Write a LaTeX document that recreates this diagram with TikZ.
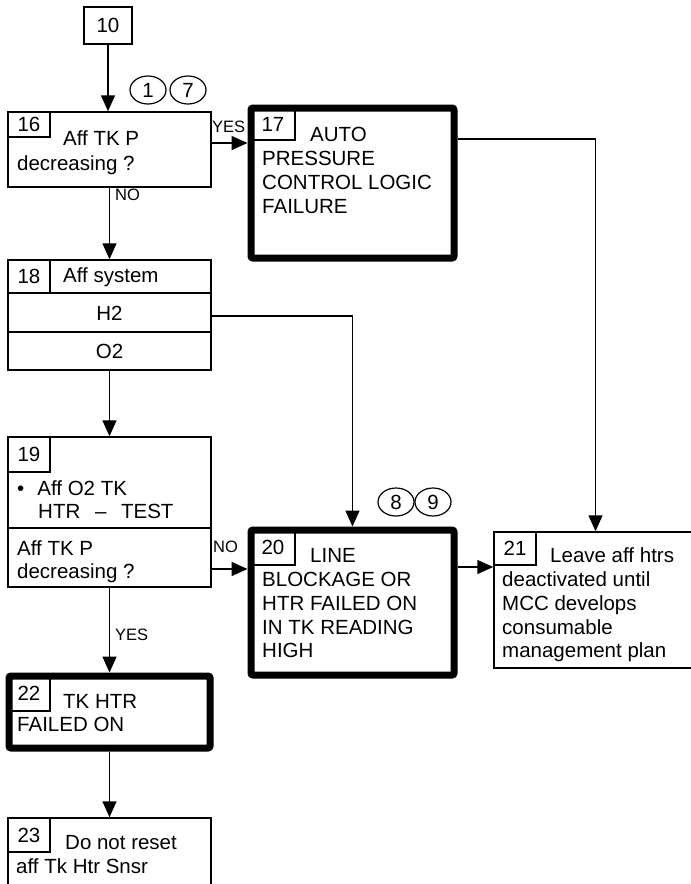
\documentclass[tikz,border=0pt]{standalone}
\usepackage{fontspec}
\setmainfont{Liberation Sans}
\usetikzlibrary{arrows.meta,shapes.geometric}
\begin{document}
\begin{tikzpicture}[x=1pt,y=-1pt,
  thinln/.style={line width=1.5pt},
  box/.style={draw, line width=1.5pt, inner sep=0pt, font=\fontsize{20.5}{24}\selectfont},
  heavybox/.style={draw, line width=7pt, rounded corners=2pt, inner sep=0pt},
  numbox/.style={draw, line width=1.5pt, inner sep=0pt, outer sep=0pt, font=\fontsize{20.5}{24}\selectfont},
  txt/.style={anchor=base west, inner sep=0pt, font=\fontsize{20.5}{24}\selectfont},
  ctxt/.style={inner sep=0pt, font=\fontsize{20.5}{24}\selectfont},
  lbl/.style={anchor=base west, inner sep=0pt, font=\fontsize{16.5}{20}\selectfont},
  tag/.style={draw, ellipse, line width=1.2pt, minimum width=36pt, minimum height=28pt, inner sep=0pt, font=\fontsize{20.5}{24}\selectfont},
  arr/.style={line width=1.5pt, -{Triangle[length=16pt,width=14pt]}},
]
\useasboundingbox (0,0) rectangle (691,884);
\clip (0,0) rectangle (691,884);
\fill[white] (0,0) rectangle (691,884);

% box 10
\node[box, minimum width=48pt, minimum height=37pt] (b10) at (108,25.5) {10};

% box 16
\node[box, minimum width=203pt, minimum height=75pt] (b16) at (109.5,149.5) {};
\node[numbox, minimum width=42pt, minimum height=25pt] (n16) at (29,124.5) {16};
\node[txt] (t16a) at (63,145) {Aff TK P};
\node[txt] (t16b) at (17,170) {decreasing ?};
\node[tag] (c1) at (148,90) {1};
\node[tag] (c7) at (188,90) {7};

% box 17
\node[heavybox, minimum width=203pt, minimum height=150pt] (b17) at (352.5,183) {};
\node[numbox, minimum width=44pt, minimum height=32pt] (n17) at (273,124) {17};
\node[txt] (t17a) at (310,141.5) {AUTO};
\node[txt] (t17b) at (262,165) {PRESSURE};
\node[txt] (t17c) at (262,189) {CONTROL LOGIC};
\node[txt] (t17d) at (262,213) {FAILURE};

% box 18
\node[box, minimum width=203pt, minimum height=110pt] (b18) at (109.5,315) {};
\draw[thinln] (b18.west |- 0,293) -- (b18.east |- 0,293);
\draw[thinln] (b18.west |- 0,332) -- (b18.east |- 0,332);
\node[numbox, minimum width=42pt, minimum height=33pt] (n18) at (29,276.5) {18};
\node[txt] (t18) at (63,282) {Aff system};
\node[ctxt] (h2) at (109.5,313) {H2};
\node[ctxt] (o2) at (109.5,351) {O2};

% box 19
\node[box, minimum width=203pt, minimum height=150pt] (b19) at (109.5,512) {};
\draw[thinln] (b19.west |- 0,528) -- (b19.east |- 0,528);
\node[numbox, minimum width=42pt, minimum height=35pt] (n19) at (29,454.5) {19};
\node[txt] (t19a) at (17,495) {\textbullet\hspace{13pt}Aff O2 TK};
\node[txt] (t19b) at (38,518) {HTR\hspace{9pt} –\hspace{9pt} TEST};
\node[txt] (t19c) at (17,555) {Aff TK P};
\node[txt] (t19d) at (17,578) {decreasing ?};

% box 20
\node[heavybox, minimum width=203pt, minimum height=145pt] (b20) at (352.5,602.5) {};
\node[numbox, minimum width=44pt, minimum height=35pt] (n20) at (273,547.5) {20};
\node[txt] (t20a) at (310,562) {LINE};
\node[txt] (t20b) at (262,586.5) {BLOCKAGE OR};
\node[txt] (t20c) at (262,610) {HTR FAILED ON};
\node[txt] (t20d) at (262,634) {IN TK READING};
\node[txt] (t20e) at (262,657.5) {HIGH};
\node[tag] (c8) at (396,502) {8};
\node[tag] (c9) at (433,502) {9};

% box 21
\node[box, minimum width=203pt, minimum height=136pt] (b21) at (595.5,600) {};
\node[numbox, minimum width=42pt, minimum height=33pt] (n21) at (515,548.5) {21};
\node[txt] (t21a) at (550,562.5) {Leave aff htrs};
\node[txt] (t21b) at (502,586.5) {deactivated until};
\node[txt] (t21c) at (502,610) {MCC develops};
\node[txt] (t21d) at (502,634) {consumable};
\node[txt] (t21e) at (502,657) {management plan};

% box 22
\node[heavybox, minimum width=201pt, minimum height=72pt] (b22) at (109.5,712) {};
\node[numbox, minimum width=42pt, minimum height=35pt] (n22) at (29,693.5) {22};
\node[txt] (t22a) at (63,708) {TK HTR};
\node[txt] (t22b) at (17,731.5) {FAILED ON};

% box 23
\node[box, minimum width=203pt, minimum height=112pt] (b23) at (109.5,874) {};
\node[numbox, minimum width=42pt, minimum height=34pt] (n23) at (29,835) {23};
\node[txt] (t23a) at (65,849) {Do not reset};
\node[txt] (t23b) at (16,873) {aff Tk Htr Snsr};

% labels
\node[lbl] (yes1) at (212,132) {YES};
\node[lbl] (no1) at (115,200) {NO};
\node[lbl] (no2) at (213,552) {NO};
\node[lbl] (yes2) at (115,640) {YES};

% connectors
\draw[arr] (b10.south) -- (b10.south |- b16.north);
\draw[arr] (b16.east |- 0,143) -- (b17.west |- 0,143);
\draw[arr] (b17.east |- 0,139) -| (b21.north);
\draw[arr] (b16.south) -- (b18.north);
\draw[arr] (b18.east |- 0,316) -| (b20.north);
\draw[arr] (b18.south) -- (b19.north);
\draw[arr] (b19.east |- 0,569) -- (b20.west |- 0,569);
\draw[arr] (b20.east |- 0,567) -- (b21.west |- 0,567);
\draw[arr] (b19.south) -- (b22.north);
\draw[arr] (b22.south) -- (b23.north);
\end{tikzpicture}
\end{document}
